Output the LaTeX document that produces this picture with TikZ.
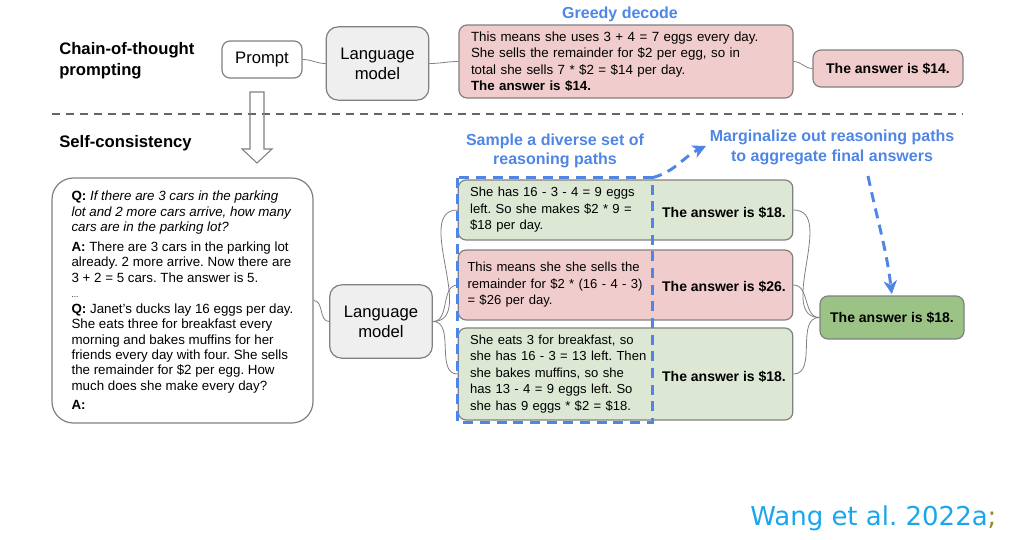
\documentclass[tikz,border=0pt]{standalone}
\usepackage{fontspec}
\setmainfont{Liberation Sans}
\newfontfamily\citefont{DejaVu Sans}
\usepackage{xcolor}
\usepackage{tikz}
\usetikzlibrary{arrows.meta,positioning}
\frenchspacing

\definecolor{boxline}{HTML}{808080}
\definecolor{lmgray}{HTML}{EFEFEF}
\definecolor{badred}{HTML}{F0CDCC}
\definecolor{goodgreen}{HTML}{DCE8D4}
\definecolor{finalgreen}{HTML}{9CC386}
\definecolor{hintblue}{HTML}{4F86E6}
\definecolor{citeblue}{HTML}{1AA6EE}
\definecolor{citeolive}{HTML}{8C8C30}

\tikzset{
  box/.style={draw=boxline,line width=0.9pt,rounded corners=6pt,inner sep=0pt},
  lmbox/.style={box,fill=lmgray,rounded corners=9pt,minimum width=77pt,minimum height=55pt,
    align=center,font=\fontsize{12.5}{15}\selectfont},
  pathbox/.style={box,align=left,inner xsep=9pt,text width=233pt,
    font=\fontsize{9.8}{12.4}\selectfont},
  answer/.style={font=\fontsize{10.5}{12}\selectfont\bfseries},
  title/.style={anchor=west,align=left,inner sep=0pt,font=\fontsize{12.5}{15.75}\selectfont\bfseries},
  hint/.style={text=hintblue,align=center,font=\fontsize{12}{14.6}\selectfont\bfseries},
  link/.style={draw=boxline,line width=0.6pt},
  hintdash/.style={draw=hintblue,line width=2.2pt,dash pattern=on 7.5pt off 5pt},
  hintarrow/.style={hintdash,-{Stealth[length=10pt,width=10pt,inset=3pt]}}
}

\begin{document}
\begin{tikzpicture}[x=0.75pt,y=-0.75pt]
\useasboundingbox (0,0) rectangle (1016,539);

% chain-of-thought row
\node[title] (cotlabel) at (59,60.5) {Chain-of-thought\\prompting};
\node[box,fill=white,minimum width=60pt,minimum height=27.75pt,
  font=\fontsize{12.5}{15}\selectfont] (prompt) at (262,59.5) {Prompt};
\node[lmbox] (lmtop) at (377.5,63.5) {Language\\model};
\node[pathbox,fill=badred,text width=232.5pt,minimum height=54.75pt,
  font=\fontsize{10}{12.4}\selectfont] (greedy) at (626,61.5)
  {This means she uses 3 + 4 = 7 eggs every day.\\
   She sells the remainder for \$2 per egg, so in\\
   total she sells 7 * \$2 = \$14 per day.\\
   \textbf{The answer is \$14.}};
\node[hint] (greedylabel) at (620,14) {Greedy decode};
\node[box,fill=badred,answer,minimum width=112.5pt,minimum height=27.75pt] (ans14) at (888,68.5)
  {The answer is \$14.};
\draw[link] (prompt.east) to[out=0,in=180] (lmtop.west);
\draw[link] (lmtop.east) to[out=0,in=180] (greedy.west);
\draw[link] (greedy.east) to[out=0,in=180] (ans14.west);

% separator and hollow arrow
\draw[draw=black!60,line width=1.5pt,dash pattern=on 6pt off 4.5pt] (52,114) -- (963,114);
\draw[boxline,line width=0.8pt] (250,92) -- (264,92) -- (264,149) -- (272,149)
  -- (257,163) -- (242,149) -- (250,149) -- cycle;

% self-consistency row
\node[title] (sclabel) at (59,143) {Self-consistency};
\node[box,fill=white,rounded corners=16pt,minimum width=195.75pt,minimum height=183.75pt,
  align=left,font=\fontsize{10}{11.6}\selectfont] (qbox) at (182.5,300.5)
  {\textbf{Q:} \textit{If there are 3 cars in the parking}\\
   \textit{lot and 2 more cars arrive, how many}\\
   \textit{cars are in the parking lot?}\\[3pt]
   \textbf{A:} There are 3 cars in the parking lot\\
   already. 2 more arrive. Now there are\\
   3 + 2 = 5 cars. The answer is 5.\\
   {\fontsize{6}{7}\selectfont ...}\\
   \textbf{Q:} Janet’s ducks lay 16 eggs per day.\\
   She eats three for breakfast every\\
   morning and bakes muffins for her\\
   friends every day with four. She sells\\
   the remainder for \$2 per egg. How\\
   much does she make every day?\\[3pt]
   \textbf{A:}};
\node[lmbox] (lmbot) at (381,321.5) {Language\\model};

\node[pathbox,fill=goodgreen,minimum height=45pt] (path1) at (625.5,210)
  {She has 16 - 3 - 4 = 9 eggs\\
   left. So she makes \$2 * 9 =\\
   \$18 per day.};
\node[pathbox,fill=badred,inner xsep=7pt,text width=237pt,minimum height=52.5pt] (path2) at (625.5,285)
  {This means she she sells the\\
   remainder for \$2 * (16 - 4 - 3)\\
   = \$26 per day.};
\node[pathbox,fill=goodgreen,minimum height=69pt] (path3) at (625.5,374)
  {She eats 3 for breakfast, so\\
   she has 16 - 3 = 13 left. Then\\
   she bakes muffins, so she\\
   has 13 - 4 = 9 eggs left. So\\
   she has 9 eggs * \$2 = \$18.};
\node[answer] (ans1) at (724,213) {The answer is \$18.};
\node[answer] (ans2) at (724,287) {The answer is \$26.};
\node[answer] (ans3) at (724,377) {The answer is \$18.};
\node[box,fill=finalgreen,answer,minimum width=108pt,minimum height=32.25pt] (final) at (892,317.5)
  {The answer is \$18.};

\draw[link] (qbox.east) to[out=0,in=180] (lmbot.west);
\foreach \p in {path1,path2,path3}{
  \draw[link] (lmbot.east) to[out=0,in=180] (\p.west);
  \draw[link] (\p.east) to[out=0,in=180] (final.west);
}

% sampling frame and hints
\node[minimum width=145.5pt,minimum height=183pt,inner sep=0pt] (frame) at (555,300) {};
\draw[hintdash] (frame.north west) rectangle (frame.south east);
\node[hint] (samplelabel) at (555,151) {Sample a diverse set of\\reasoning paths};
\node[hint,font=\fontsize{12}{15}\selectfont\bfseries] (marglabel) at (832,147)
  {Marginalize out reasoning paths\\to aggregate final answers};
\coordinate (margtip) at (706,146);
\coordinate (aggtop) at (868,176);
\draw[hintarrow] (frame.north east) to[out=15,in=205] (margtip);
\draw[hintarrow,shorten >=1pt] (aggtop) to[out=-78,in=97] (final.north);

\node[anchor=base west,font=\citefont\fontsize{19.5}{22}\selectfont,inner sep=0pt] (cite) at (750,525)
  {\textcolor{citeblue}{Wang et al. 2022a}\textcolor{citeolive}{;}};
\end{tikzpicture}
\end{document}
